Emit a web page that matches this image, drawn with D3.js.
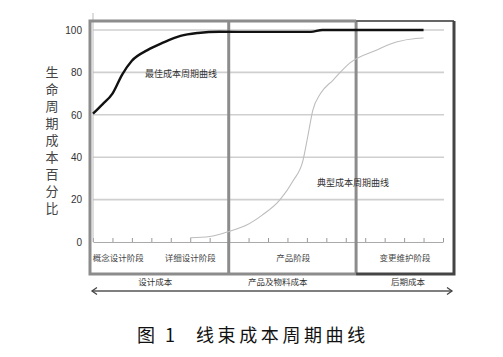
<!DOCTYPE html>
<html><head><meta charset="utf-8">
<script src="https://cdn.jsdelivr.net/npm/d3@7/dist/d3.min.js"></script>
<style>body{margin:0;background:#fff}svg{display:block}</style>
</head><body><svg id="c" width="503" height="357"></svg>
<script>
const yTicks = [0, 20, 40, 60, 80, 100];
const bestX = [0, 0.5, 1, 1.5, 2, 2.8, 3.6, 4.5, 5.4, 6.5, 8, 11.2, 11.8, 14, 17];
const bestY = [60.5, 65, 70, 79, 85.5, 90.5, 94, 97.2, 98.6, 99.2, 99.1, 99.1, 100, 100, 100];
const typX = [5, 6, 7, 7.9, 8.7, 9.6, 10.3, 10.8, 11.05, 11.3, 11.7, 12.35, 13.2, 14.6, 15.6, 16.6, 17];
const typY = [2, 2.6, 5, 8, 12.7, 19.8, 29, 38.5, 50, 62, 70, 76.4, 84.4, 90.6, 94.3, 96, 96.2];
const stageLabels = ["概念设计阶段", "详细设计阶段", "产品阶段", "变更维护阶段"];
const stagePos = [1.3, 5.0, 10.3, 16.05];
const costLabels = ["设计成本", "产品及物料成本", "后期成本"];
const costPos = [3.2, 9.5, 16.2];
const dividers = [6.98, 13.53];
const curveLabels = ["最佳成本周期曲线", "典型成本周期曲线"];
const yTitle = "生命周期成本百分比";
const caption = ["图 1", "线束成本周期曲线"];

const svg = d3.select("#c");
const x = d3.scaleLinear().domain([0, 18]).range([93, 443]);
const y = d3.scaleLinear().domain([0, 100]).range([242, 30]);
const cjk = "'Noto Sans CJK SC','Noto Sans',sans-serif";

// grid
svg.append("g").selectAll("line").data(yTicks.filter(d => d > 0)).join("line")
  .attr("x1", x(0)).attr("x2", x(18) + 1).attr("y1", d => y(d)).attr("y2", d => y(d))
  .attr("stroke", "#cfcfcf").attr("stroke-width", 1.6);

// x axis with small upward ticks
const xa = svg.append("g").attr("transform", `translate(0,${y(0)})`)
  .call(d3.axisTop(x).ticks(18).tickSize(4).tickSizeOuter(0).tickFormat(""));
xa.select(".domain").attr("stroke", "#aaa").attr("stroke-width", 1);
xa.selectAll(".tick line").attr("stroke", "#999");

// y axis
const ya = svg.append("g").attr("transform", `translate(${x(0)},0)`)
  .call(d3.axisLeft(y).tickValues(yTicks).tickSize(0).tickPadding(11));
ya.select(".domain").remove();
ya.selectAll("text").attr("font-family", "'Liberation Sans',Arial,sans-serif")
  .attr("font-size", 10).attr("fill", "#333");
svg.append("line").attr("x1", x(0)).attr("x2", x(0)).attr("y1", 13).attr("y2", y(0))
  .attr("stroke", "#bbb").attr("stroke-width", 1);

// frame
const fTop = 21, fBot = 274, fLeft = 90, fRight = 454;
svg.append("path").attr("d", `M${x(dividers[1])},${fTop}H${fLeft}V${fBot}H${x(dividers[1])}`)
  .attr("fill", "none").attr("stroke", "#8c8c8c").attr("stroke-width", 3);
svg.selectAll(".div").data(dividers).join("line").attr("class", "div")
  .attr("x1", d => x(d)).attr("x2", d => x(d)).attr("y1", fTop).attr("y2", fBot)
  .attr("stroke", "#8c8c8c").attr("stroke-width", 3);
svg.append("path").attr("d", `M${x(dividers[1])},${fTop}H${fRight}`)
  .attr("fill", "none").attr("stroke", "#666").attr("stroke-width", 2);
svg.append("path").attr("d", `M${fRight},${fTop}V${fBot}H${x(dividers[1])}`)
  .attr("fill", "none").attr("stroke", "#444").attr("stroke-width", 3);

// curves
const line = d3.line().x(d => x(d[0])).y(d => y(d[1])).curve(d3.curveMonotoneX);
svg.append("path").datum(typX.map((v, i) => [v, typY[i]])).attr("d", line)
  .attr("fill", "none").attr("stroke", "#bdbdbd").attr("stroke-width", 1.1);
svg.append("path").datum(bestX.map((v, i) => [v, bestY[i]])).attr("d", line)
  .attr("fill", "none").attr("stroke", "#111").attr("stroke-width", 2.4);

// curve labels
svg.append("text").attr("x", 181).attr("y", y(79.5)).attr("dy", "0.35em")
  .attr("text-anchor", "middle").attr("font-family", cjk).attr("font-size", 9)
  .attr("fill", "#333").text(curveLabels[0]);
svg.append("text").attr("x", 353).attr("y", y(28)).attr("dy", "0.35em")
  .attr("text-anchor", "middle").attr("font-family", cjk).attr("font-size", 9)
  .attr("fill", "#333").text(curveLabels[1]);

// stage labels
svg.selectAll(".st").data(stageLabels).join("text").attr("class", "st")
  .attr("x", (d, i) => x(stagePos[i])).attr("y", 258).attr("dy", "0.35em")
  .attr("text-anchor", "middle").attr("font-family", cjk).attr("font-size", 8.5)
  .attr("fill", "#444").text(d => d);
svg.selectAll(".cs").data(costLabels).join("text").attr("class", "cs")
  .attr("x", (d, i) => x(costPos[i])).attr("y", 282).attr("dy", "0.35em")
  .attr("text-anchor", "middle").attr("font-family", cjk).attr("font-size", 8.5)
  .attr("fill", "#333").text(d => d);

// double arrow
const ay = 291;
svg.append("line").attr("x1", 92).attr("x2", 452).attr("y1", ay).attr("y2", ay)
  .attr("stroke", "#555").attr("stroke-width", 1.4);
svg.append("path").attr("d", `M97,${ay - 3.5}L92,${ay}L97,${ay + 3.5}M447,${ay - 3.5}L452,${ay}L447,${ay + 3.5}`)
  .attr("fill", "none").attr("stroke", "#444").attr("stroke-width", 1.3);

// y title, vertical writing mode, one text element
svg.append("text").attr("x", 52).attr("y", 65.5)
  .style("writing-mode", "vertical-rl").style("text-orientation", "upright")
  .attr("font-family", cjk).attr("font-size", 13).attr("letter-spacing", 4)
  .attr("fill", "#444").text(yTitle);

// caption
svg.append("text").attr("x", 137).attr("y", 336).attr("dy", "0.35em")
  .attr("font-family", cjk).attr("font-size", 18).attr("letter-spacing", 3)
  .attr("fill", "#111").text(caption[0]);
svg.append("text").attr("x", 196).attr("y", 336).attr("dy", "0.35em")
  .attr("font-family", cjk).attr("font-size", 18).attr("letter-spacing", 3.6)
  .attr("fill", "#111").text(caption[1]);
</script></body></html>
